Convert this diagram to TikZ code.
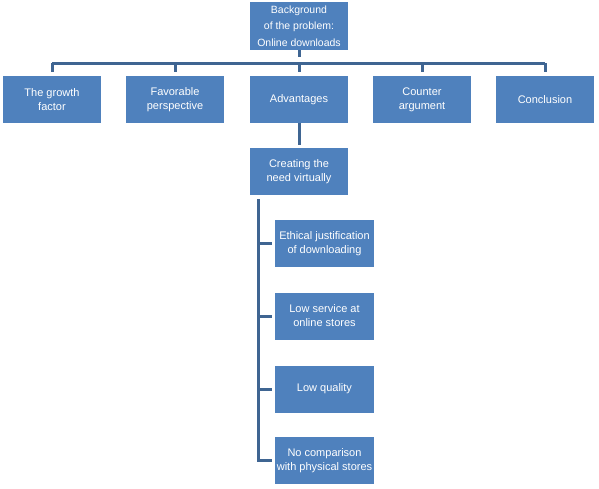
\documentclass[tikz,border=0pt]{standalone}
\usepackage{fontspec}
\setmainfont{Liberation Sans}
\usepackage{tikz}

\definecolor{boxblue}{HTML}{4F81BD}
\definecolor{lineblue}{HTML}{3F6592}

\tikzset{
	topic/.style={fill=boxblue, text=white, minimum width=98pt, minimum height=47pt,
		inner sep=1pt, align=center, font=\fontsize{11}{14}\selectfont},
	link/.style={draw=lineblue, line width=3pt}
}

\begin{document}
\begin{tikzpicture}[x=1pt, y=1pt]
			\useasboundingbox (0, 0) rectangle (599, -488);
			% root
			\node[topic, minimum height=48pt, font=\fontsize{10.5}{16.5}\selectfont] (bg) at (299, -26)
				{Background\\of the problem:\\Online downloads};
			\draw[link] (bg.south) -- ++(0, -7);
			\coordinate (bar) at (299, -63);
			% first level
			\foreach \x/\name/\txt in {52/gf/{The growth\\factor}, 175/fp/{Favorable\\perspective},
				299/adv/Advantages, 422/ca/{Counter\\argument}, 545/con/Conclusion}
			{
				\node[topic] (\name) at (\x, -99.5) {\txt};
				\draw[link, shorten >=4pt] (bar -| \name.north) -- (\name.north);
			}
			\draw[link] (bar -| gf.north) -- (bar -| con.north);
			% advantages branch
			\node[topic] (cv) at (299, -171.5) {Creating the\\need virtually};
			\draw[link, shorten >=3pt] (adv.south) -- (cv.north);
			\coordinate (spine) at (258.5, -199);
			\foreach \y/\name/\txt in {243.5/ej/{Ethical justification\\of downloading},
				316/ls/{Low service at\\online stores}, 389/lq/Low quality,
				460.5/nc/{No comparison\\with physical stores}}
			{
				\node[topic, minimum width=99pt] (\name) at (324.5, -\y) {\txt};
				\draw[link] (spine |- \name.west) -- ++(13.5, 0);
			}
			\draw[link, shorten >=3pt] (spine) |- (nc.west);
		\end{tikzpicture}
\end{document}
